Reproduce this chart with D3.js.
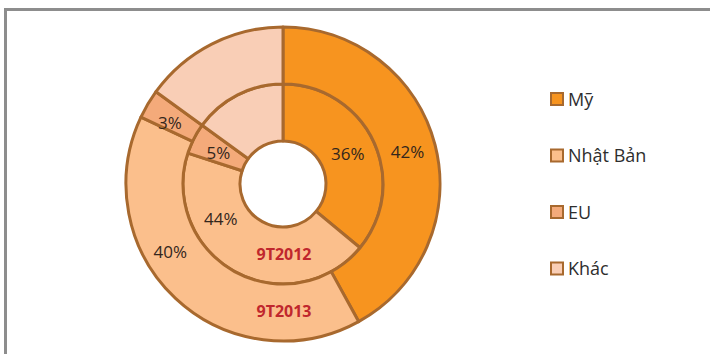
<!DOCTYPE html>
<html>
<head>
<meta charset="utf-8">
<script src="https://cdn.jsdelivr.net/npm/d3@7/dist/d3.min.js"></script>
<style>
  html, body { margin: 0; padding: 0; background: #fff; }
  svg { display: block; }
</style>
</head>
<body>
<svg id="chart" width="710" height="354"></svg>
<script>
// Export market shares (%), two periods
const categories = ["Mỹ", "Nhật Bản", "EU", "Khác"];
const share2012 = [36, 44, 5, 15];   // inner ring, 9T2012
const share2013 = [42, 40, 3, 15];   // outer ring, 9T2013
const ringLabels = ["9T2012", "9T2013"];
const colors = ["#F7941F", "#FBBF8C", "#F4AA7A", "#F9CEB6"];

const svg = d3.select("#chart");
const W = 710, H = 354;
const cx = 283, cy = 184;

// Frame (top and left rules)
svg.append("line").attr("x1", 4).attr("x2", W).attr("y1", 9.5).attr("y2", 9.5)
  .attr("stroke", "#8d8d8d").attr("stroke-width", 3);
svg.append("line").attr("x1", 5.5).attr("x2", 5.5).attr("y1", 8).attr("y2", H)
  .attr("stroke", "#8d8d8d").attr("stroke-width", 3);

const color = d3.scaleOrdinal().domain(categories).range(colors);
const pie = d3.pie().sort(null).value(d => d.v);

// Where each label sits along its slice (0 = start angle, 1 = end angle); Khác is unlabelled
const rings = [
  { name: ringLabels[0], values: share2012, r0: 43, r1: 100, labelAt: { "Mỹ": 0.5, "Nhật Bản": 0.70, "EU": 0.42 }, labelR: 0 },
  { name: ringLabels[1], values: share2013, r0: 100, r1: 157, labelAt: { "Mỹ": 0.5, "Nhật Bản": 0.61, "EU": 0.3 }, labelR: 3 }
];

const g = svg.append("g").attr("transform", `translate(${cx},${cy})`);

rings.forEach(ring => {
  const data = pie(categories.map((c, i) => ({ c, v: ring.values[i] })));
  const arc = d3.arc().innerRadius(ring.r0).outerRadius(ring.r1);
  g.append("g").selectAll("path").data(data).join("path")
    .attr("d", arc)
    .attr("fill", d => color(d.data.c))
    .attr("stroke", "#A8692E")
    .attr("stroke-width", 3)
    .attr("stroke-linejoin", "round");

  const rMid = (ring.r0 + ring.r1) / 2;
  g.append("g").selectAll("text").data(data.filter(d => ring.labelAt[d.data.c] !== undefined)).join("text")
    .attr("transform", d => {
      const a = d.startAngle + (d.endAngle - d.startAngle) * ring.labelAt[d.data.c];
      const r = rMid + (d.data.c === "Nhật Bản" ? ring.labelR : 0);
      return `translate(${Math.sin(a) * r},${-Math.cos(a) * r})`;
    })
    .attr("text-anchor", "middle")
    .attr("dy", "0.36em")
    .attr("font-family", "'Open Sans', sans-serif")
    .attr("font-size", 17)
    .attr("fill", "#33261c")
    .text(d => d.data.v + "%");

  // Period label at the bottom of the ring
  g.append("text")
    .attr("x", 1).attr("y", rMid - 1)
    .attr("text-anchor", "middle")
    .attr("dy", "0.36em")
    .attr("font-family", "'Open Sans', sans-serif")
    .attr("font-weight", "bold")
    .attr("font-size", 16)
    .attr("fill", "#C0272D")
    .text(ring.name);
});

// Legend
const legend = svg.append("g").attr("transform", "translate(550,92)");
const row = legend.selectAll("g").data(categories).join("g")
  .attr("transform", (d, i) => `translate(0,${i * 56.5})`);
row.append("rect")
  .attr("x", 1).attr("y", 1).attr("width", 12).attr("height", 12)
  .attr("fill", d => color(d))
  .attr("stroke", "#A8692E").attr("stroke-width", 2);
row.append("text")
  .attr("x", 18).attr("y", 13.5)
  .attr("font-family", "'Open Sans', sans-serif")
  .attr("font-size", 18)
  .attr("fill", "#2e2e2e")
  .text(d => d);
</script>
</body>
</html>
